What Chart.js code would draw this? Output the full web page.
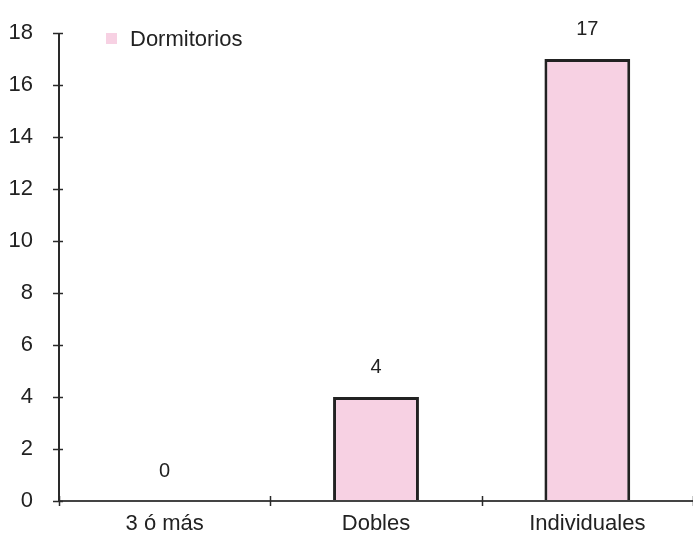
<!DOCTYPE html>
<html>
<head>
<meta charset="utf-8">
<script src="https://cdn.jsdelivr.net/npm/chart.js@4/dist/chart.umd.min.js"></script>
<style>
  html, body { margin: 0; padding: 0; background: #ffffff; }
  #wrap { width: 693px; height: 535px; }
</style>
</head>
<body>
<div id="wrap"><canvas id="c" width="693" height="535"></canvas></div>
<script>
const categories = ["3 ó más", "Dobles", "Individuales"];
const seriesLabel = "Dormitorios";
const seriesValues = [0, 4, 17];
const yTicks = [0, 2, 4, 6, 8, 10, 12, 14, 16, 18];

const FONT = "'Liberation Sans', Arial, sans-serif";
const TEXT = "#222222";
const PINK = "#F7D1E3";

const decorations = {
  id: "decorations",
  afterDatasetsDraw(chart) {
    const ctx = chart.ctx;
    const x = chart.scales.x, y = chart.scales.y;
    ctx.save();
    ctx.strokeStyle = "#2a2a2a";
    ctx.lineWidth = 2;
    ctx.beginPath();
    ctx.moveTo(x.left, y.top);
    ctx.lineTo(x.left, y.bottom);
    ctx.stroke();
    ctx.strokeStyle = "#444444";
    ctx.beginPath();
    ctx.moveTo(x.left, y.bottom);
    ctx.lineTo(x.right, y.bottom);
    ctx.stroke();
    ctx.strokeStyle = "#2a2a2a";
    ctx.lineWidth = 1.5;
    yTicks.forEach(v => {
      const py = Math.round(y.getPixelForValue(v)) + 0.5;
      ctx.beginPath();
      ctx.moveTo(x.left - 6, py);
      ctx.lineTo(x.left + 4, py);
      ctx.stroke();
    });
    for (let i = 0; i <= categories.length; i++) {
      const px = Math.round(x.left + (x.right - x.left) * i / categories.length) + 0.5;
      ctx.beginPath();
      ctx.moveTo(px, y.bottom - 5);
      ctx.lineTo(px, y.bottom + 5);
      ctx.stroke();
    }
    const meta = chart.getDatasetMeta(0);
    ctx.fillStyle = TEXT;
    ctx.font = "20px " + FONT;
    ctx.textAlign = "center";
    ctx.textBaseline = "alphabetic";
    meta.data.forEach((bar, i) => {
      ctx.fillText(String(seriesValues[i]), bar.x, bar.y - 24);
    });
    const lx = 106, ly = 33;
    ctx.fillStyle = chart.data.datasets[0].backgroundColor;
    ctx.fillRect(lx, ly, 11, 11);
    ctx.fillStyle = TEXT;
    ctx.font = "22px " + FONT;
    ctx.textAlign = "left";
    ctx.textBaseline = "middle";
    ctx.fillText(chart.data.datasets[0].label, lx + 24, ly + 7);
    ctx.restore();
  }
};

new Chart(document.getElementById("c"), {
  type: "bar",
  data: {
    labels: categories,
    datasets: [{
      label: seriesLabel,
      data: seriesValues,
      backgroundColor: PINK,
      borderColor: "#222222",
      borderWidth: 3,
      borderSkipped: "bottom",
      categoryPercentage: 1.0,
      barPercentage: 0.406
    }]
  },
  options: {
    responsive: false,
    animation: false,
    devicePixelRatio: 1,
    layout: { padding: { top: 33, right: 0, left: 0, bottom: 0 } },
    plugins: {
      legend: { display: false },
      tooltip: { enabled: false }
    },
    scales: {
      x: {
        offset: true,
        grid: { display: false, drawTicks: false },
        border: { display: false },
        ticks: { color: TEXT, font: { family: FONT, size: 22 }, padding: 10, maxRotation: 0 },
        afterFit(s) { s.height = 34; s.paddingLeft = 0; s.paddingRight = 0; }
      },
      y: {
        min: 0,
        max: 18,
        afterBuildTicks(s) { s.ticks = yTicks.map(v => ({ value: v })); },
        grid: { display: false, drawTicks: false },
        border: { display: false },
        ticks: { color: TEXT, font: { family: FONT, size: 22 }, padding: 26 },
        afterFit(s) { s.width = 59; s.paddingTop = 0; s.paddingBottom = 0; }
      }
    }
  },
  plugins: [decorations]
});
</script>
</body>
</html>
